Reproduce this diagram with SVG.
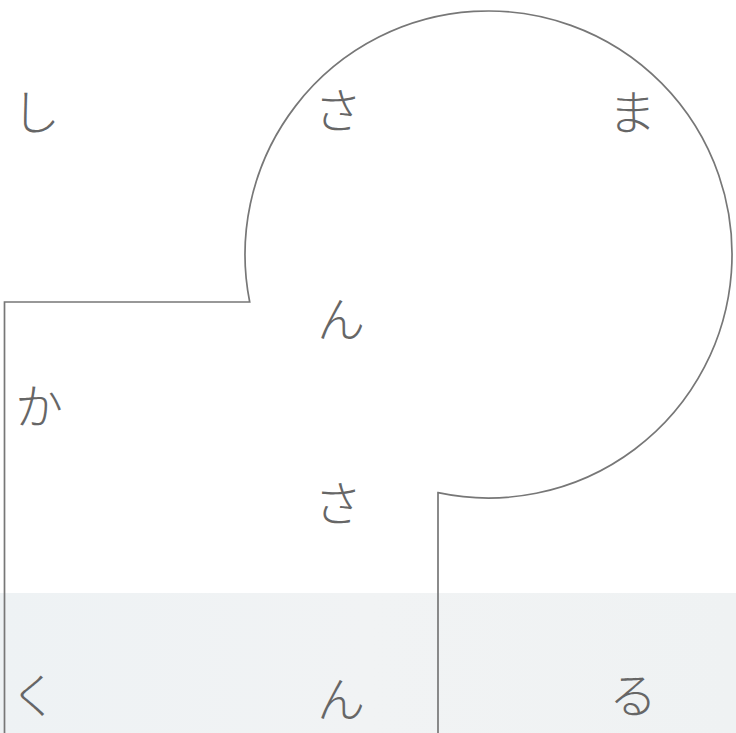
<svg xmlns="http://www.w3.org/2000/svg" width="736" height="733" viewBox="0 0 736 733">
<defs>
<linearGradient id="band" x1="0" y1="0" x2="1" y2="0">
<stop offset="0" stop-color="#eef2f4"/>
<stop offset="0.5" stop-color="#f1f3f4"/>
<stop offset="1" stop-color="#eff2f3"/>
</linearGradient>
<style>
.ch{font-family:"Noto Sans CJK JP","Noto Sans",sans-serif;font-size:48px;font-weight:300;fill:#666;text-anchor:middle;dominant-baseline:central}
.ln{fill:none;stroke:#777;stroke-width:1.7}
</style>
</defs>
<rect x="0" y="0" width="736" height="733" fill="#fff"/>
<rect id="band" x="0" y="593" width="736" height="140" fill="url(#band)"/>
<g id="connectors">
<path class="ln" d="M4.5,733 V302 H249.7 A243.5,243.5 0 1 1 438,492.7 V733"/>
</g>
<g id="n1"><text class="ch" x="36" y="109">し</text></g>
<g id="n2"><text class="ch" x="338" y="107">さ</text></g>
<g id="n3"><text class="ch" x="632" y="109">ま</text></g>
<g id="n4"><text class="ch" x="341" y="316">ん</text></g>
<g id="n5"><text class="ch" x="39" y="403">か</text></g>
<g id="n6"><text class="ch" x="338" y="500">さ</text></g>
<g id="n7"><text class="ch" x="34" y="692">く</text></g>
<g id="n8"><text class="ch" x="341" y="696">ん</text></g>
<g id="n9"><text class="ch" x="633" y="692">る</text></g>
</svg>
